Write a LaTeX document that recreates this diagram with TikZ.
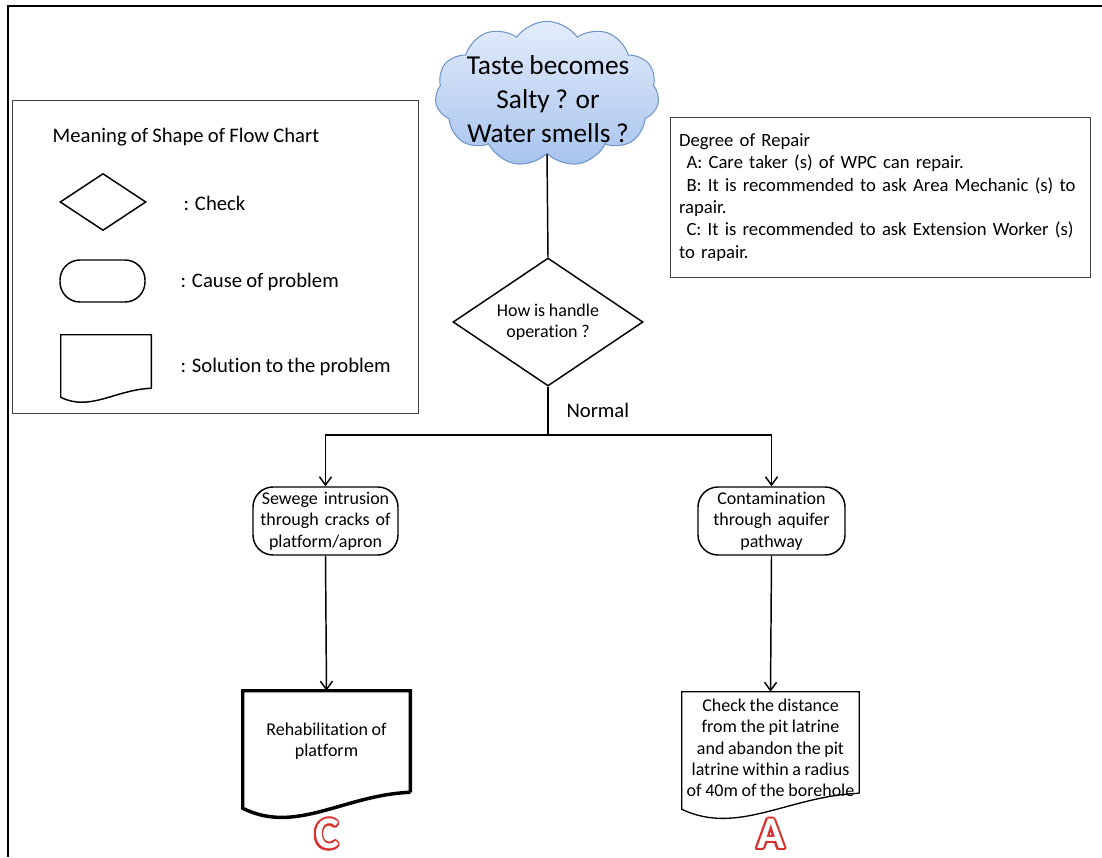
\documentclass[tikz,border=0pt]{standalone}
\usepackage{fontspec}
\setmainfont{Carlito}[Ligatures=CommonOff, WordSpace=0.9]
\usepackage{contour}
\usetikzlibrary{arrows.meta,positioning,shapes.geometric,shapes.symbols}
\contourlength{1.4pt}
\definecolor{cloudtop}{HTML}{E3ECFB}
\definecolor{cloudbot}{HTML}{A7C3EE}
\definecolor{cloudline}{HTML}{7096CB}
\definecolor{gradered}{HTML}{D8302C}

\begin{document}
\begin{tikzpicture}[x=0.75pt, y=-0.75pt,
  check/.style={draw, diamond, aspect=1.5, line width=1.1pt, align=center, inner sep=0pt},
  cause/.style={draw, rectangle, rounded corners=15pt, line width=1.1pt, align=center, inner sep=0pt},
  solution/.style={rectangle, inner sep=0pt, align=center},
  note/.style={draw=black!75, line width=0.6pt, rectangle, inner sep=0pt},
  legendtext/.style={anchor=west, font=\fontsize{15.5}{18}\selectfont},
  small/.style={font=\fontsize{13.5}{16}\selectfont},
  grade/.style={font=\fontsize{34}{34}\selectfont\bfseries},
  flow/.style={-{Straight Barb[length=2.2mm,width=3.2mm]}, line width=1.1pt},
  link/.style={line width=1.1pt}]
\useasboundingbox (0,0) rectangle (1102,857);
\draw[line width=1.6pt] (8,857) -- (8,6) -- (1102,6);

% legend
\node[note, anchor=north west, minimum width=304.5pt, minimum height=234.75pt] (legend) at (12,100) {};
\node[legendtext] (legtitle) at (48,137) {Meaning of Shape of Flow Chart};
\node[check, minimum width=64.5pt, minimum height=42.75pt] (legcheck) at (103,202) {};
\node[legendtext] (legchecktext) at (179,203) {: Check};
\node[cause, minimum width=63.75pt, minimum height=31.5pt] (legcause) at (102.5,281) {};
\node[legendtext] (legcausetext) at (176,282) {: Cause of problem};
\node[solution, minimum width=67.5pt, minimum height=39.75pt] (legsol) at (106,361.5) {};
\draw[line width=1.1pt] (legsol.south east) -- (legsol.north east) -- (legsol.north west)
  -- ([yshift=-6.75pt]legsol.south west) .. controls +(22pt,-11pt) and +(-27pt,-1pt) .. (legsol.south east);
\node[legendtext] (legsoltext) at (176,367) {: Solution to the problem};

% degree of repair
\node[note, anchor=north west, minimum width=315pt, minimum height=120pt, text width=302pt,
  align=left, font=\fontsize{14}{16.8}\selectfont] (degree) at (670,117)
  {Degree of Repair\\
   \hspace*{0.4em}A: Care taker (s) of WPC can repair.\\
   \hspace*{0.4em}B: It is recommended to ask Area Mechanic (s) to\\
   rapair.\\
   \hspace*{0.4em}C: It is recommended to ask Extension Worker (s)\\
   to rapair.};

% flow
\node[cloud, cloud puffs=11, cloud puff arc=110, draw=cloudline, line width=0.8pt,
  top color=cloudtop, bottom color=cloudbot, minimum width=168pt, minimum height=109pt,
  inner sep=0pt] (cloud) at (547,94) {};
\node[align=center, font=\fontsize{20.5}{25.5}\selectfont] (cloudtext) at (548,99)
  {Taste becomes\\Salty ? or\\Water smells ?};
\node[check, small, minimum width=142.5pt, minimum height=96pt] (handle) at (548,322) {How is handle\\operation ?};
\coordinate (split) at (548,435);
\node[cause, small, minimum width=108.75pt, minimum height=51pt, text width=106pt] (sewage) at (325.5,521)
  {Sewege intrusion\\through cracks of\\platform/apron};
\node[cause, small, minimum width=110.25pt, minimum height=51pt, text width=106pt] (aquifer) at (771.5,521)
  {Contamination\\through aquifer\\pathway};
\node[solution, small, minimum width=125.25pt, minimum height=75.75pt] (rehab) at (326.5,741.5)
  {Rehabilitation of\\platform};
\draw[line width=2.6pt] (rehab.south east) -- (rehab.north east) -- (rehab.north west)
  -- ([yshift=-12pt]rehab.south west) .. controls +(40pt,-20pt) and +(-50pt,-2pt) .. (rehab.south east);
\node[solution, minimum width=132.75pt, minimum height=75.75pt,
  label={[small, align=center, yshift=-4pt]center:{Check the distance\\from the pit latrine\\and abandon the pit\\latrine within a radius\\of 40m of the borehole}}]
  (distance) at (770.5,742.5) {};
\draw[line width=1pt] (distance.south east) -- (distance.north east) -- (distance.north west)
  -- ([yshift=-12pt]distance.south west) .. controls +(42pt,-20pt) and +(-53pt,-2pt) .. (distance.south east);
\node[grade] (gradeC) at (327,835) {\contour{gradered}{\textcolor{white}{C}}};
\node[grade] (gradeA) at (771,835) {\contour{gradered}{\textcolor{white}{A}}};

\draw[link] (cloud.south) -- (handle.north);
\draw[link] (handle.south) -- node[right=10pt, font=\fontsize{15.5}{18}\selectfont] {Normal} (split);
\draw[flow] (split) -| (sewage.north);
\draw[flow] (split) -| (aquifer.north);
\draw[flow] (sewage.south) -- (rehab.north);
\draw[flow] (aquifer.south) -- (distance.north);
\end{tikzpicture}
\end{document}
